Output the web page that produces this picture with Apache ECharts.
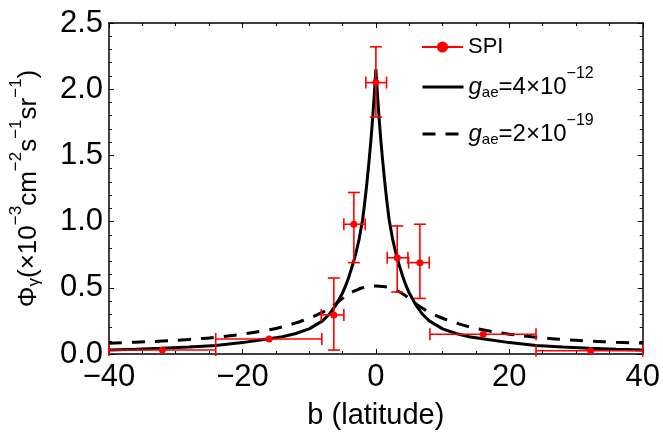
<!DOCTYPE html>
<html><head><meta charset="utf-8">
<script src="https://cdn.jsdelivr.net/npm/echarts@6/dist/echarts.min.js"></script>
<style>html,body{margin:0;padding:0;background:#fff}#c{width:663px;height:436px}</style>
</head><body><div id="c"></div>
<script>
// SPI data points (latitude bins) with error bars
const spiB  = [-32, -16, -6.3, -3.3, 0, 3.2, 6.6, 16.1, 32.2];
const spiY  = [0.03, 0.113, 0.295, 0.98, 2.05, 0.727, 0.69, 0.149, 0.025];
const spiXLo = [-40, -24, -8.2, -4.8, -1.5, 1.7, 4.9, 8.1, 24];
const spiXHi = [-24, -8.1, -4.8, -1.6, 1.6, 4.8, 8.0, 24, 40];
const spiYLo = [0.03, 0.113, 0.03, 0.69, 1.79, 0.468, 0.42, 0.149, 0.025];
const spiYHi = [0.03, 0.113, 0.574, 1.22, 2.32, 0.967, 0.98, 0.149, 0.025];

// g_ae = 4e-12 model curve (solid)
const curveB = [-40,-36,-32,-28,-24,-20,-16,-14,-12,-10,-8,-7,-6,-5,-4.5,-4,-3.5,-3,-2.5,-2,-1.75,-1.5,-1.25,-1,-0.75,-0.5,-0.25,
  0,0.25,0.5,0.75,1,1.25,1.5,1.75,2,2.5,3,3.5,4,4.5,5,6,7,8,10,12,14,16,20,24,28,32,36,40];
const solidY = [0.031,0.036,0.043,0.052,0.064,0.086,0.115,0.13,0.155,0.19,0.25,0.30,0.37,0.46,0.52,0.59,0.67,0.76,0.87,1.01,1.11,1.22,1.34,1.47,1.61,1.77,1.95,
  2.15,1.95,1.77,1.61,1.47,1.34,1.22,1.11,1.01,0.87,0.76,0.67,0.59,0.52,0.46,0.37,0.30,0.25,0.19,0.155,0.13,0.115,0.086,0.064,0.052,0.043,0.036,0.031];

// g_ae = 2e-19 model curve (dashed)
const dashB = [-40,-36,-32,-28,-24,-20,-16,-14,-12,-10,-8,-7,-6,-5,-4,-3,-2,-1,0,1,2,3,4,5,6,7,8,10,12,14,16,20,24,28,32,36,40];
const dashedY = [0.082,0.089,0.098,0.11,0.127,0.15,0.183,0.205,0.235,0.27,0.315,0.345,0.38,0.42,0.455,0.48,0.5,0.51,
  0.513,0.51,0.5,0.48,0.455,0.42,0.38,0.345,0.315,0.27,0.235,0.205,0.183,0.15,0.127,0.11,0.098,0.089,0.082];

const xTickLabels = ['\u221240','\u221220','0','20','40'];
const yTickLabels = ['0.0','0.5','1.0','1.5','2.0','2.5'];

const NAME_SPI = 'SPI';
const NAME_G1 = 'g_ae=4\u00d710^-12';
const NAME_G2 = 'g_ae=2\u00d710^-19';

const FONT = "'Liberation Sans', Arial, sans-serif";
const chart = echarts.init(document.getElementById('c'), null, {renderer:'canvas'});

const axisLineStyle = {show:true, onZero:false, lineStyle:{color:'#000', width:1.5}};
const axisTickStyle = {show:true, inside:true, length:5, lineStyle:{color:'#000', width:1}};

const legendRich = {
  n: {fontSize:24, fontFamily:FONT, color:'#000', lineHeight:28},
  s: {fontSize:22, fontFamily:FONT, color:'#000', lineHeight:28},
  it: {fontSize:24, fontFamily:FONT, fontStyle:'italic', color:'#000', lineHeight:28},
  sub: {fontSize:15, fontFamily:FONT, color:'#000', lineHeight:15, padding:[11,0,0,0]},
  sup: {fontSize:16, fontFamily:FONT, color:'#000', lineHeight:16, padding:[0,0,26,0]}
};
function legendFormatter(name){
  if (name === NAME_SPI) return '{s|SPI}';
  if (name === NAME_G1) return '{it|g}{sub|ae}{n|=4\u00d710}{sup|\u221212}';
  return '{it|g}{sub|ae}{n|=2\u00d710}{sup|\u221219}';
}
function makeLegend(item, top){
  return {
    orient:'vertical', left:421, top:top, padding:0,
    itemWidth:41, itemHeight:14,
    data:[item],
    textStyle:{fontFamily:FONT, color:'#000', fontSize:22, rich:legendRich},
    formatter: legendFormatter
  };
}

const option = {
  animation: false,
  backgroundColor: '#fff',
  grid: {left:106, right:19, top:23, bottom:82, containLabel:false},
  legend: [
    makeLegend({name: NAME_SPI, lineStyle:{opacity:1, width:2, color:'#ff0000'}}, 36),
    makeLegend({name: NAME_G1, itemStyle:{opacity:0}, lineStyle:{opacity:1, width:3, color:'#000'}}, 66),
    makeLegend({name: NAME_G2, itemStyle:{opacity:0}, lineStyle:{opacity:1, width:3, color:'#000'}}, 113)
  ],
  xAxis: [
    {
      type:'value', position:'bottom', min:-40, max:40, interval:20,
      axisLine: axisLineStyle, axisTick: axisTickStyle, splitLine:{show:false},
      minorTick: {show:true, splitNumber:4, length:3, lineStyle:{color:'#000', width:1}},
      axisLabel: {show:true, margin:8, fontSize:31, fontFamily:FONT, color:'#000',
        formatter: v => xTickLabels[Math.round((v + 40) / 20)]},
      name:'b (latitude)', nameLocation:'middle', nameGap:47,
      nameTextStyle:{fontSize:29, fontFamily:FONT, color:'#000'}
    },
    {
      type:'value', position:'top', min:-40, max:40, interval:20,
      axisLine: axisLineStyle, axisTick: axisTickStyle, splitLine:{show:false},
      minorTick: {show:true, splitNumber:4, length:3, lineStyle:{color:'#000', width:1}},
      axisLabel:{show:false}
    }
  ],
  yAxis: [
    {
      type:'value', position:'left', min:0, max:2.5, interval:0.5,
      axisLine: axisLineStyle, axisTick: axisTickStyle, splitLine:{show:false},
      minorTick: {show:true, splitNumber:5, length:3, lineStyle:{color:'#000', width:1}},
      axisLabel: {show:true, margin:6, fontSize:31, fontFamily:FONT, color:'#000',
        formatter: v => yTickLabels[Math.round(v / 0.5)]},
      name:'{m|\u03a6}{sb|\u03b3}{m|(\u00d710}{sp|\u22123}{m|cm}{sp|\u22122}{m|s}{sp|\u22121}{m|sr}{sp|\u22121}{m|)}',
      nameLocation:'middle', nameRotate:90, nameGap:49,
      nameTextStyle:{fontSize:26, fontFamily:FONT, color:'#000', rich:{
        m:{fontSize:26, fontFamily:FONT, color:'#000', lineHeight:30},
        sb:{fontSize:17, fontFamily:FONT, color:'#000', lineHeight:17, padding:[12,0,0,0]},
        sp:{fontSize:17, fontFamily:FONT, color:'#000', lineHeight:17, padding:[0,0,24,0]}
      }}
    },
    {
      type:'value', position:'right', min:0, max:2.5, interval:0.5,
      axisLine: axisLineStyle, axisTick: axisTickStyle, splitLine:{show:false},
      minorTick: {show:true, splitNumber:5, length:3, lineStyle:{color:'#000', width:1}},
      axisLabel:{show:false}
    }
  ],
  series: [
    {
      name: NAME_G1, type:'line', xAxisIndex:0, yAxisIndex:0,
      data: curveB.map((b,i)=>[b, solidY[i]]),
      symbol:'none', smooth:false, z:2,
      lineStyle:{color:'#000', width:3},
      itemStyle:{color:'#000'}
    },
    {
      name: NAME_G2, type:'line', xAxisIndex:0, yAxisIndex:0,
      data: dashB.map((b,i)=>[b, dashedY[i]]),
      symbol:'none', smooth:true, z:2,
      lineStyle:{color:'#000', width:3, type:[13,10]},
      itemStyle:{color:'#000'}
    },
    {
      name: 'SPI errors', type:'custom', xAxisIndex:0, yAxisIndex:0, z:3, silent:true,
      data: spiB.map((b,i)=>[b, spiY[i], spiXLo[i], spiXHi[i], spiYLo[i], spiYHi[i]]),
      encode: {x:[0,2,3], y:[1,4,5]},
      renderItem: function(params, api){
        const b = api.value(0), y = api.value(1);
        const pL = api.coord([api.value(2), y]);
        const pR = api.coord([api.value(3), y]);
        const cap = 6;
        const st = {stroke:'#ff0000', lineWidth:1.6, fill:null};
        const ch = [
          {type:'line', shape:{x1:pL[0], y1:pL[1], x2:pR[0], y2:pR[1]}, style:st},
          {type:'line', shape:{x1:pL[0], y1:pL[1]-cap, x2:pL[0], y2:pL[1]+cap}, style:st},
          {type:'line', shape:{x1:pR[0], y1:pR[1]-cap, x2:pR[0], y2:pR[1]+cap}, style:st}
        ];
        if (api.value(5) > api.value(4)) {
          const pT = api.coord([b, api.value(5)]);
          const pB = api.coord([b, api.value(4)]);
          ch.push({type:'line', shape:{x1:pT[0], y1:pT[1], x2:pB[0], y2:pB[1]}, style:st});
          ch.push({type:'line', shape:{x1:pT[0]-cap, y1:pT[1], x2:pT[0]+cap, y2:pT[1]}, style:st});
          ch.push({type:'line', shape:{x1:pB[0]-cap, y1:pB[1], x2:pB[0]+cap, y2:pB[1]}, style:st});
        }
        return {type:'group', children:ch};
      }
    },
    {
      name: NAME_SPI, type:'line', xAxisIndex:0, yAxisIndex:0, z:4,
      data: spiB.map((b,i)=>[b, spiY[i]]),
      symbol:'circle', symbolSize:7, showSymbol:true, showAllSymbol:true,
      itemStyle:{color:'#ff0000'},
      lineStyle:{color:'#ff0000', width:2, opacity:0}
    }
  ]
};
chart.setOption(option);
</script>
</body></html>
